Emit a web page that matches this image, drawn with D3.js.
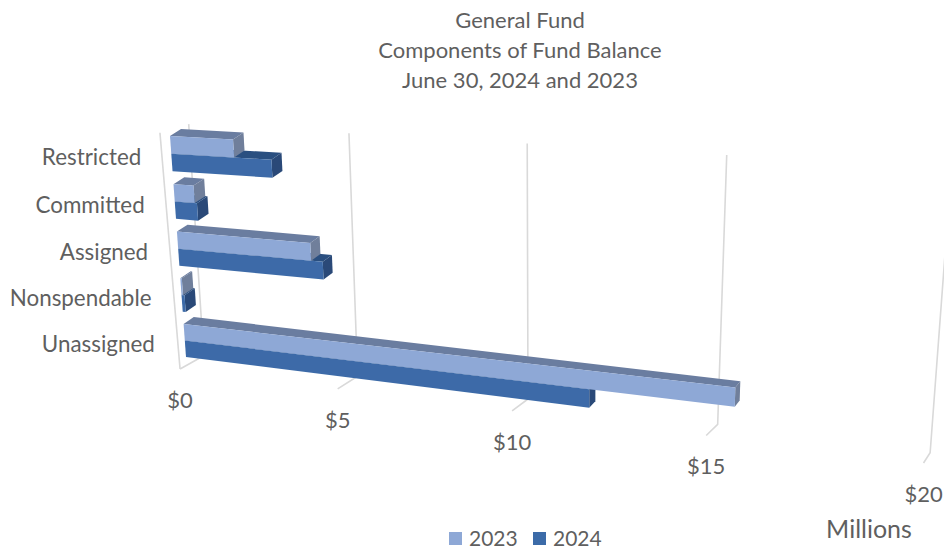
<!DOCTYPE html>
<html lang="en">
<head>
<meta charset="UTF-8">
<title>General Fund - Components of Fund Balance</title>
<script src="https://d3js.org/d3.v7.min.js"></script>
<style>
    html, body { margin: 0; background: #fff; }
    svg { display: block; }
    text { font-family: Lato, "Open Sans", sans-serif; fill: #5f5f5f; }
</style>
</head>
<body>
<div id="chart"></div>
<script>
    // Data ($ millions)
    const titleLines = ["General Fund", "Components of Fund Balance", "June 30, 2024 and 2023"];
    const categories = ["Restricted", "Committed", "Assigned", "Nonspendable", "Unassigned"];
    const seriesNames = ["2023", "2024"];
    const values2023 = [2.0, 0.65, 4.2, 0.05, 15.6];
    const values2024 = [3.15, 0.72, 4.55, 0.1, 11.95];
    const tickValues = [0, 5, 10, 15, 20];
    const tickLabels = ["$0", "$5", "$10", "$15", "$20"];
    const unitLabel = "Millions";

    const colors = {
        "2023": {front: "#8EA8D6", top: "#6B7DA0", side: "#6F7F9B"},
        "2024": {front: "#3C6BA8", top: "#2B4F80", side: "#294A78"}
    };

    const width = 944, height = 550;

    // Perspective of the 3D chart: the corners of the bars' front and back planes
    const frontPlane = homography([[170, 136], [943, 178], [926, 450], [186, 357]]);
    const backPlane = homography([[181, 129], [948, 172], [929, 444], [196, 350]]);

    function homography(q) {
        const [[x0, y0], [x1, y1], [x2, y2], [x3, y3]] = q;
        const dx1 = x1 - x2, dx2 = x3 - x2, sx = x0 - x1 + x2 - x3;
        const dy1 = y1 - y2, dy2 = y3 - y2, sy = y0 - y1 + y2 - y3;
        const den = dx1 * dy2 - dx2 * dy1;
        const g = (sx * dy2 - dx2 * sy) / den, h = (dx1 * sy - sx * dy1) / den;
        const a = x1 - x0 + g * x1, b = x3 - x0 + h * x3;
        const d = y1 - y0 + g * y1, e = y3 - y0 + h * y3;
        return (s, t) => {
            const w = g * s + h * t + 1;
            return [(a * s + b * t + x0) / w, (d * s + e * t + y0) / w];
        };
    }

    // s along the value axis, t down the category axis, depth 0 = bar front, 1 = bar back
    function project(s, t, depth) {
        const f = frontPlane(s, t), b = backPlane(s, t);
        return [f[0] + (b[0] - f[0]) * depth, f[1] + (b[1] - f[1]) * depth];
    }

    const x = d3.scaleLinear().domain([0, 20]).range([0, 1]);
    const y = d3.scaleBand().domain(categories).range([0, 1]).paddingInner(0.27).paddingOuter(0);
    const ySeries = d3.scaleBand().domain(seriesNames).range([0, y.bandwidth()]);

    const svg = d3.select("#chart").append("svg")
        .attr("width", width)
        .attr("height", height);

    const defs = svg.append("defs");
    defs.append("filter").attr("id", "soft")
        .append("feGaussianBlur").attr("stdDeviation", 0.45);

    const line = d3.line();

    // Walls and floor ticks
    const wallTop = 0, backBottom = 1.05, frontBottom = 1.035, backDepth = 1.7, frontDepth = -0.65;
    const grid = svg.append("g")
        .attr("fill", "none")
        .attr("stroke", "#D9D9D9")
        .attr("stroke-width", 1.6)
        .attr("filter", "url(#soft)");

    grid.selectAll("path.wall")
        .data(tickValues)
        .enter()
        .append("path")
        .attr("class", "wall")
        .attr("d", d => line([
            project(x(d), wallTop, backDepth),
            project(x(d), backBottom, backDepth),
            project(x(d), frontBottom, frontDepth)
        ]));

    // Left wall edge at $0
    grid.append("path")
        .attr("d", line([
            project(x(0), -0.04, frontDepth - 0.2),
            project(x(0), frontBottom, frontDepth)
        ]));

    // Bars, one series per category; 2024 first so that 2023 sits on top of it
    const faces = [];
    const addBar = (name, cat, val) => {
        const t0 = y(cat) + ySeries(name), t1 = t0 + ySeries.bandwidth();
        const s0 = x(0), s1 = x(val);
        faces.push({color: colors[name].top, pts: [
            project(s0, t0, 0), project(s1, t0, 0), project(s1, t0, 1), project(s0, t0, 1)]});
        faces.push({color: colors[name].side, pts: [
            project(s1, t0, 0), project(s1, t0, 1), project(s1, t1, 1), project(s1, t1, 0)]});
        faces.push({color: colors[name].front, pts: [
            project(s0, t0, 0), project(s1, t0, 0), project(s1, t1, 0), project(s0, t1, 0)]});
    };
    categories.forEach((c, i) => addBar("2024", c, values2024[i]));
    categories.forEach((c, i) => addBar("2023", c, values2023[i]));

    svg.append("g")
        .attr("filter", "url(#soft)")
        .selectAll("path")
        .data(faces)
        .enter()
        .append("path")
        .attr("d", d => line(d.pts) + "Z")
        .attr("fill", d => d.color);

    // Title
    svg.append("g")
        .selectAll("text")
        .data(titleLines)
        .enter()
        .append("text")
        .attr("x", 520)
        .attr("y", (d, i) => 28 + i * 30)
        .attr("text-anchor", "middle")
        .attr("font-size", 22)
        .text(d => d);

    // Category labels
    svg.append("g")
        .selectAll("text")
        .data(categories)
        .enter()
        .append("text")
        .attr("x", d => project(x(0), y(d) + y.bandwidth() / 2, 0)[0] - 30)
        .attr("y", d => project(x(0), y(d) + y.bandwidth() / 2, 0)[1] + 11)
        .attr("text-anchor", "end")
        .attr("font-size", 22.4)
        .text(d => d);

    // Value labels
    svg.append("g")
        .selectAll("text")
        .data(tickValues)
        .enter()
        .append("text")
        .attr("x", d => project(x(d), frontBottom, frontDepth)[0])
        .attr("y", d => project(x(d), frontBottom, frontDepth)[1] + 39)
        .attr("text-anchor", "middle")
        .attr("font-size", 22)
        .text((d, i) => tickLabels[i]);

    svg.append("text")
        .attr("x", 869)
        .attr("y", 538)
        .attr("text-anchor", "middle")
        .attr("font-size", 25)
        .text(unitLabel);

    // Legend
    const legendX = d3.scalePoint().domain(seriesNames).range([449, 533]);
    const legend = svg.append("g")
        .selectAll("g")
        .data(seriesNames)
        .enter()
        .append("g")
        .attr("transform", d => `translate(${legendX(d)},532)`);
    legend.append("rect")
        .attr("width", 13)
        .attr("height", 13)
        .attr("fill", d => colors[d].front);
    legend.append("text")
        .attr("x", 20)
        .attr("y", 14)
        .attr("font-size", 21)
        .text(d => d);
</script>
</body>
</html>
